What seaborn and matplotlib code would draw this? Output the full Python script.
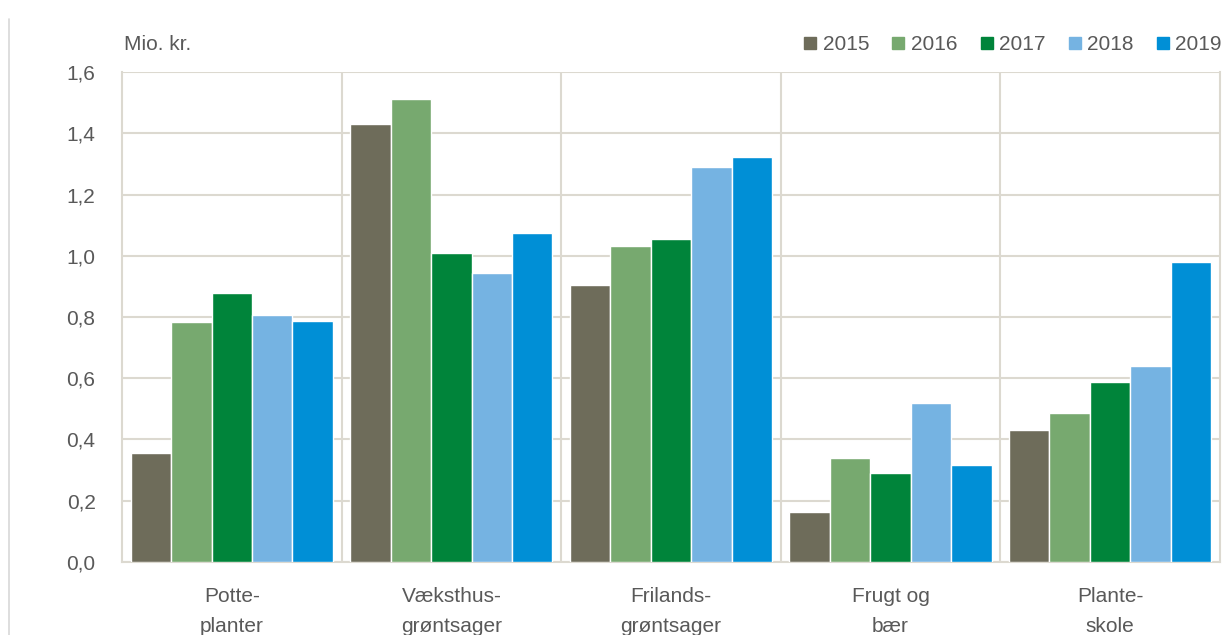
import matplotlib
matplotlib.use("Agg")
import matplotlib.pyplot as plt
import pandas as pd
import seaborn as sns
from matplotlib.lines import Line2D
from matplotlib.ticker import FuncFormatter

categories = ["Potte-\nplanter", "Væksthus-\ngrøntsager", "Frilands-\ngrøntsager",
              "Frugt og\nbær", "Plante-\nskole"]
years = ["2015", "2016", "2017", "2018", "2019"]
v2015 = [0.356, 1.430, 0.905, 0.163, 0.431]
v2016 = [0.784, 1.512, 1.032, 0.340, 0.487]
v2017 = [0.878, 1.009, 1.055, 0.290, 0.588]
v2018 = [0.807, 0.944, 1.290, 0.520, 0.640]
v2019 = [0.787, 1.074, 1.322, 0.317, 0.980]
colors = ["#6e6c5a", "#77a96f", "#00843a", "#75b3e2", "#008fd6"]

rows = []
for yr, vals in zip(years, [v2015, v2016, v2017, v2018, v2019]):
    for cat, v in zip(categories, vals):
        rows.append({"cat": cat, "year": yr, "value": v})
df = pd.DataFrame(rows)

sns.set_style("white")
plt.rcParams["font.family"] = ["Liberation Sans Narrow", "Liberation Sans", "DejaVu Sans"]
text_col = "#595959"
grid_col = "#dcd9d0"

fig = plt.figure(figsize=(12.26, 6.35), dpi=100)
ax = fig.add_axes([0.0995, 0.115, 0.8955, 0.7716])

sns.barplot(data=df, x="cat", y="value", hue="year", hue_order=years,
            palette=colors, saturation=1, width=0.92, edgecolor="white",
            linewidth=1, legend=False, ax=ax, zorder=3)

ax.set_ylim(0, 1.6)
ax.set_xlim(-0.5, 4.5)
ax.set_yticks([0, 0.2, 0.4, 0.6, 0.8, 1.0, 1.2, 1.4, 1.6])
ax.yaxis.set_major_formatter(FuncFormatter(lambda v, p: f"{v:.1f}".replace(".", ",")))
ax.grid(axis="y", color=grid_col, linewidth=1.5, zorder=0)
for xv in [0.5, 1.5, 2.5, 3.5]:
    ax.axvline(xv, color=grid_col, linewidth=1.5, zorder=0)
for side in ["left", "right", "bottom"]:
    ax.spines[side].set_color(grid_col)
    ax.spines[side].set_linewidth(1.5)
ax.spines["top"].set_visible(False)
ax.set_xlabel("")
ax.set_ylabel("")
ax.tick_params(axis="y", length=0, pad=19, labelsize=15, labelcolor=text_col)
ax.tick_params(axis="x", length=0, pad=18, labelsize=15, labelcolor=text_col)
for lbl in ax.get_xticklabels():
    lbl.set_linespacing(1.75)

fig.text(0.101, 0.93, "Mio. kr.", fontsize=15, color=text_col, va="center")

handles = [Line2D([0], [0], marker="s", linestyle="none", markersize=8,
                  markerfacecolor=c, markeredgecolor=c) for c in colors]
fig.legend(handles, years, loc="center right", bbox_to_anchor=(1.012, 0.93),
           ncol=5, frameon=False, fontsize=15, labelcolor=text_col,
           handletextpad=0.1, columnspacing=0.9, handlelength=1.0)

fig.add_artist(Line2D([0.007, 0.007], [0, 0.97], color="#d8d8d8", linewidth=1.2))

fig.savefig("out.png", dpi=100)
